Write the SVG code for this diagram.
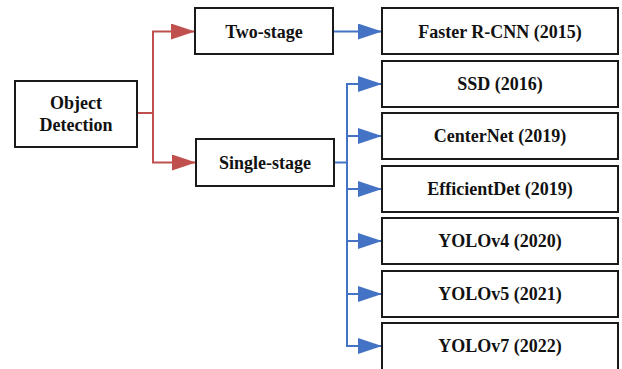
<svg xmlns="http://www.w3.org/2000/svg" width="622" height="369" viewBox="0 0 622 369">
<defs>
<style>
.box{fill:#fff;stroke:#1a1a1a;stroke-width:2}
.red{fill:none;stroke:#C0504D;stroke-width:2}
.blue{fill:none;stroke:#4472C4;stroke-width:2}
</style>
<marker id="ar" markerWidth="24" markerHeight="16" refX="24" refY="8" markerUnits="userSpaceOnUse" orient="auto"><path d="M0,0 L24,8 L0,16 Z" fill="#C0504D"/></marker>
<marker id="ab" markerWidth="24" markerHeight="16" refX="24" refY="8" markerUnits="userSpaceOnUse" orient="auto"><path d="M0,0 L24,8 L0,16 Z" fill="#4472C4"/></marker>
</defs>
<rect width="622" height="369" fill="#fff"/>
<g id="connectors">
<path class="red" d="M137,113 H153 V31.5 H195" marker-end="url(#ar)"/>
<path class="red" d="M153,113 V162.5 H196" marker-end="url(#ar)"/>
<path class="blue" d="M333,31.5 H382" marker-end="url(#ab)"/>
<path class="blue" d="M334,162.5 H347"/>
<path class="blue" d="M347,84 V346"/>
<path class="blue" d="M346,84 H382" marker-end="url(#ab)"/>
<path class="blue" d="M347,136 H382" marker-end="url(#ab)"/>
<path class="blue" d="M347,189 H382" marker-end="url(#ab)"/>
<path class="blue" d="M347,241 H382" marker-end="url(#ab)"/>
<path class="blue" d="M347,294 H382" marker-end="url(#ab)"/>
<path class="blue" d="M346,346 H382" marker-end="url(#ab)"/>
</g>
<g font-family="Liberation Serif" font-weight="bold" font-size="18" fill="#111" text-anchor="middle">
<g id="object-detection"><rect class="box" x="15" y="81" width="122" height="66"/><text x="76" y="109">Object</text><text x="76" y="131">Detection</text></g>
<g id="two-stage"><rect class="box" x="195" y="8" width="138" height="46"/><text x="264" y="37.5">Two-stage</text></g>
<g id="single-stage"><rect class="box" x="196" y="139" width="138" height="47"/><text x="265" y="168.5">Single-stage</text></g>
<g id="faster-rcnn"><rect class="box" x="382" y="8" width="236" height="46"/><text x="500" y="37.5">Faster R-CNN (2015)</text></g>
<g id="ssd"><rect class="box" x="382" y="61" width="236" height="46"/><text x="500" y="90">SSD (2016)</text></g>
<g id="centernet"><rect class="box" x="382" y="113" width="236" height="46"/><text x="500" y="142">CenterNet (2019)</text></g>
<g id="efficientdet"><rect class="box" x="382" y="166" width="236" height="46"/><text x="500" y="195">EfficientDet (2019)</text></g>
<g id="yolov4"><rect class="box" x="382" y="218" width="236" height="46"/><text x="500" y="247">YOLOv4 (2020)</text></g>
<g id="yolov5"><rect class="box" x="382" y="271" width="236" height="46"/><text x="500" y="300">YOLOv5 (2021)</text></g>
<g id="yolov7"><rect class="box" x="382" y="323" width="236" height="47"/><text x="500" y="352">YOLOv7 (2022)</text></g>
</g>
</svg>
